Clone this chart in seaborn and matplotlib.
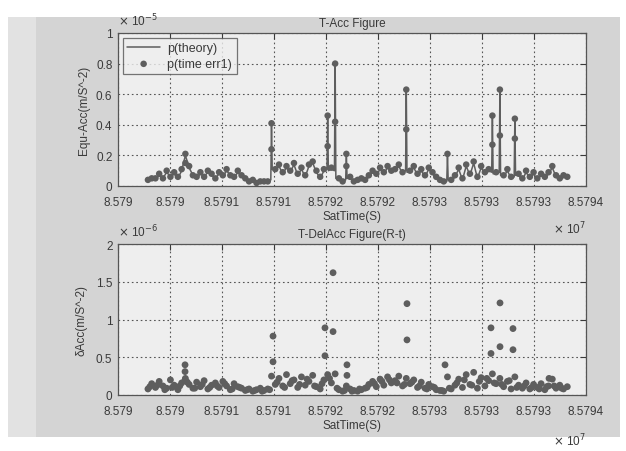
import numpy as np
import pandas as pd
import matplotlib
matplotlib.use("Agg")
import matplotlib.pyplot as plt
import seaborn as sns
from matplotlib.patches import Rectangle
from matplotlib.ticker import FuncFormatter

# ---------------- data ----------------
T0 = 85790000  # seconds
x_ticklabels = ["8.579", "8.579", "8.5791", "8.5791", "8.5792", "8.5792",
                "8.5793", "8.5793", "8.5793", "8.5794"]

t_offsets = [256, 288, 320, 352, 384, 416, 448, 480, 512, 544, 576, 608, 640, 672, 704,
             736, 768, 800, 832, 864, 896, 928, 960, 992, 1024, 1056, 1088, 1120, 1152,
             1184, 1216, 1248, 1280, 1312, 1344, 1376, 1408, 1440, 1472, 1504, 1536, 1568,
             1600, 1632, 1664, 1696, 1728, 1760, 1792, 1824, 1856, 1888, 1920, 1952, 1984,
             2016, 2048, 2080, 2112, 2144, 2176, 2208, 2240, 2272, 2304, 2336, 2368, 2400,
             2432, 2464, 2496, 2528, 2560, 2592, 2624, 2656, 2688, 2720, 2752, 2784, 2816,
             2848, 2880, 2912, 2944, 2976, 3008, 3040, 3072, 3104, 3136, 3168, 3200, 3232,
             3264, 3296, 3328, 3360, 3392, 3424, 3456, 3488, 3520, 3552, 3584, 3616, 3648,
             3680, 3712, 3744, 3776, 3808, 3840]

# p(theory), units of 1e-5 m/s^2
p_theory = [0.03, 0.05, 0.04, 0.07, 0.05, 0.09, 0.06, 0.08, 0.05, 0.10,
            0.20,
            0.12, 0.07, 0.05, 0.08, 0.06, 0.09, 0.07, 0.05, 0.08,
            0.06, 0.10, 0.07, 0.05, 0.09, 0.06, 0.04, 0.03, 0.03, 0.02,
            0.03, 0.02, 0.03,
            0.40,
            0.10, 0.13, 0.08, 0.12, 0.09, 0.14, 0.07, 0.11, 0.06, 0.13, 0.15, 0.09, 0.05,
            0.10, 0.45, 0.11, 0.81, 0.04, 0.03,
            0.20,
            0.05, 0.03, 0.03, 0.04, 0.03, 0.06, 0.09, 0.07, 0.11, 0.08, 0.12, 0.09, 0.10, 0.13, 0.08,
            0.62,
            0.09, 0.12, 0.07, 0.10, 0.06, 0.11, 0.08, 0.05, 0.03, 0.02,
            0.20,
            0.03, 0.06, 0.11, 0.04, 0.13, 0.07, 0.15, 0.05, 0.12, 0.08, 0.10,
            0.45, 0.08, 0.62, 0.06, 0.10, 0.05, 0.44,
            0.07, 0.04, 0.09, 0.05, 0.08, 0.04, 0.07, 0.05, 0.08,
            0.12,
            0.06, 0.04, 0.06, 0.05]

# narrow spike edges of the theory line (baseline points just beside each spike)
spike_edge_t = [1306, 1318, 1786, 1798, 1850, 1862, 1946, 1958, 2458, 2470,
                2810, 2822, 3194, 3206, 3258, 3270, 3386, 3398]
spike_edge_v = [0.04, 0.11, 0.11, 0.10, 0.10, 0.05, 0.04, 0.05, 0.10, 0.09,
                0.03, 0.04, 0.09, 0.08, 0.09, 0.07, 0.06, 0.07]

# p(time err1), units of 1e-5 m/s^2
p_err1 = [0.04, 0.05, 0.05, 0.08, 0.05, 0.10, 0.06, 0.09, 0.06, 0.11,
          0.21,
          0.13, 0.07, 0.06, 0.09, 0.06, 0.10, 0.08, 0.05, 0.09,
          0.07, 0.11, 0.07, 0.06, 0.10, 0.07, 0.05, 0.03, 0.04, 0.02,
          0.03, 0.03, 0.03,
          0.41,
          0.11, 0.14, 0.09, 0.13, 0.10, 0.15, 0.08, 0.12, 0.07, 0.14, 0.16, 0.10, 0.06,
          0.11, 0.46, 0.12, 0.80, 0.05, 0.03,
          0.21,
          0.06, 0.03, 0.04, 0.05, 0.04, 0.07, 0.10, 0.08, 0.12, 0.09, 0.13, 0.10, 0.11, 0.14, 0.09,
          0.63,
          0.10, 0.13, 0.08, 0.11, 0.07, 0.12, 0.09, 0.06, 0.04, 0.03,
          0.21,
          0.04, 0.07, 0.12, 0.05, 0.14, 0.08, 0.16, 0.06, 0.13, 0.09, 0.11,
          0.46, 0.09, 0.63, 0.07, 0.11, 0.06, 0.44,
          0.08, 0.05, 0.10, 0.06, 0.09, 0.05, 0.08, 0.06, 0.09,
          0.13,
          0.07, 0.05, 0.07, 0.06]

# extra err1 points on the spikes
err1_extra_t = [576, 1312, 1792, 1856, 1952, 2464, 3200, 3264, 3392]
err1_extra_v = [0.15, 0.24, 0.26, 0.42, 0.13, 0.37, 0.27, 0.33, 0.31]

# delta Acc, units of 1e-6 m/s^2
d_acc = [0.08, 0.15, 0.10, 0.18, 0.12, 0.09, 0.20, 0.13, 0.07, 0.16,
         0.22, 0.14, 0.09, 0.17, 0.11, 0.19, 0.08, 0.13, 0.16, 0.10,
         0.18, 0.12, 0.07, 0.15, 0.11, 0.09, 0.06, 0.08, 0.05, 0.07,
         0.09, 0.06, 0.08, 0.25, 0.14, 0.22, 0.12, 0.27, 0.15, 0.20,
         0.10, 0.24, 0.13, 0.18, 0.26, 0.11, 0.08, 0.20, 0.27, 0.16,
         0.28, 0.07, 0.05, 0.12, 0.08, 0.06, 0.05, 0.07, 0.09, 0.14,
         0.18, 0.11, 0.21, 0.13, 0.24, 0.16, 0.19, 0.25, 0.12, 0.22,
         0.15, 0.20, 0.10, 0.17, 0.09, 0.14, 0.11, 0.07, 0.06, 0.05,
         0.24, 0.08, 0.13, 0.21, 0.10, 0.27, 0.14, 0.30, 0.09, 0.23,
         0.12, 0.19, 0.28, 0.15, 0.22, 0.11, 0.18, 0.08, 0.24, 0.13,
         0.09, 0.16, 0.08, 0.14, 0.10, 0.15, 0.07, 0.12, 0.21, 0.09,
         0.13, 0.08, 0.11]

# second, interleaved set of delta Acc samples (thick lower band)
d_acc_mid_t = [272, 336, 400, 464, 528, 592, 656, 720, 784, 848, 912, 976, 1040, 1104,
               1168, 1232, 1296, 1360, 1424, 1488, 1552, 1616, 1680, 1744, 1808, 1872,
               1936, 2000, 2064, 2128, 2192, 2256, 2320, 2384, 2448, 2512, 2576, 2640,
               2704, 2768, 2832, 2896, 2960, 3024, 3088, 3152, 3216, 3280, 3344, 3408,
               3472, 3536, 3600, 3664, 3728, 3792]
d_acc_mid_v = [0.11, 0.13, 0.07, 0.10, 0.12, 0.17, 0.09, 0.14, 0.10, 0.12, 0.15, 0.08,
               0.10, 0.07, 0.06, 0.05, 0.07, 0.17, 0.10, 0.19, 0.14, 0.21, 0.12, 0.15,
               0.22, 0.09, 0.06, 0.05, 0.08, 0.10, 0.15, 0.18, 0.20, 0.16, 0.14, 0.17,
               0.12, 0.08, 0.10, 0.06, 0.09, 0.16, 0.20, 0.13, 0.18, 0.22, 0.16, 0.14,
               0.19, 0.10, 0.12, 0.10, 0.08, 0.11, 0.12, 0.09]

d_extra_t = [573, 573, 573, 1325, 1325, 1769, 1769, 1838, 1838, 1957, 1957,
             2470, 2470, 2795, 3188, 3188, 3265, 3265, 3376, 3376, 3684]
d_extra_v = [0.40, 0.31, 0.20, 0.78, 0.44, 0.89, 0.52, 1.62, 0.84, 0.40, 0.26,
             1.21, 0.73, 0.40, 0.89, 0.55, 1.22, 0.64, 0.88, 0.60, 0.22]

# ---------------- frames ----------------
theory_df = pd.concat([
    pd.DataFrame({"t": np.array(t_offsets) + T0, "theory": np.array(p_theory) * 1e-5}),
    pd.DataFrame({"t": np.array(spike_edge_t) + T0, "theory": np.array(spike_edge_v) * 1e-5}),
], ignore_index=True).sort_values("t")
err_df = pd.concat([
    pd.DataFrame({"t": np.array(t_offsets) + T0, "err1": np.array(p_err1) * 1e-5}),
    pd.DataFrame({"t": np.array(err1_extra_t) + T0, "err1": np.array(err1_extra_v) * 1e-5}),
], ignore_index=True)
bot_df = pd.concat([
    pd.DataFrame({"t": np.array(t_offsets) + T0, "d": np.array(d_acc) * 1e-6}),
    pd.DataFrame({"t": np.array(d_acc_mid_t) + T0, "d": np.array(d_acc_mid_v) * 1e-6}),
    pd.DataFrame({"t": np.array(d_extra_t) + T0, "d": np.array(d_extra_v) * 1e-6}),
], ignore_index=True)

# ---------------- style ----------------
sns.set_style("white")
plt.rcParams["font.family"] = ["Liberation Sans", "DejaVu Sans"]
TXT = "#3a3a3a"
GRAY = "#5e5e5e"

fig = plt.figure(figsize=(6.26, 4.52), dpi=100)
fig.patch.set_facecolor("white")
fig.patches.append(Rectangle((0.013, 0.03), 0.977, 0.93, transform=fig.transFigure,
                             facecolor="#d4d4d4", edgecolor="none", zorder=-10))
fig.patches.append(Rectangle((0.013, 0.03), 0.045, 0.93, transform=fig.transFigure,
                             facecolor="#e2e2e2", edgecolor="none", zorder=-9))

ax1 = fig.add_axes([0.1885, 0.5863, 0.7476, 0.3385])
ax2 = fig.add_axes([0.1885, 0.1239, 0.7476, 0.334])

xticks = np.linspace(T0, T0 + 4000, 10)

sns.lineplot(data=theory_df, x="t", y="theory", ax=ax1, color=GRAY, lw=1.1,
             label="p(theory)", zorder=3, sort=True)
sns.scatterplot(data=err_df, x="t", y="err1", ax=ax1, color=GRAY, s=22,
                edgecolor="none", label="p(time err1)", zorder=4)
sns.scatterplot(data=bot_df, x="t", y="d", ax=ax2, color=GRAY, s=24,
                edgecolor="none", zorder=4, legend=False)

for ax, ylim, yticks, scale in [(ax1, (0, 1e-5), [0, 0.2e-5, 0.4e-5, 0.6e-5, 0.8e-5, 1e-5], 1e-5),
                                (ax2, (0, 2e-6), [0, 0.5e-6, 1e-6, 1.5e-6, 2e-6], 1e-6)]:
    ax.set_facecolor("#eeeeee")
    ax.set_xlim(T0, T0 + 4000)
    ax.set_ylim(*ylim)
    ax.set_xticks(xticks)
    ax.set_xticklabels(x_ticklabels)
    ax.set_yticks(yticks)
    ax.yaxis.set_major_formatter(FuncFormatter(lambda v, p, s=scale: "%g" % round(v / s, 3)))
    ax.grid(True, linestyle=(0, (1.5, 2.5)), color="#555555", linewidth=0.8)
    ax.tick_params(direction="in", length=4, top=True, right=True, labelsize=8.5,
                   colors=TXT, width=0.8)
    ax.tick_params(axis="x", pad=7)
    ax.tick_params(axis="y", pad=4)
    for sp in ax.spines.values():
        sp.set_color("#555555")
        sp.set_linewidth(0.9)
    ax.set_xlabel("SatTime(S)", fontsize=8.5, color=TXT, labelpad=2)

ax1.set_ylabel("Equ-Acc(m/S^-2)", fontsize=8.5, color=TXT, labelpad=4)
ax2.set_ylabel("δAcc(m/S^-2)", fontsize=8.5, color=TXT, labelpad=6)
ax1.set_title("T-Acc Figure", fontsize=8.5, color=TXT, pad=5)
ax2.set_title("T-DelAcc Figure(R-t)", fontsize=8.5, color=TXT, pad=5)

ax1.text(0.0, 1.03, r"$\times$ 10$^{-5}$", transform=ax1.transAxes, fontsize=8.5,
         color=TXT, ha="left", va="bottom")
ax2.text(0.0, 1.03, r"$\times$ 10$^{-6}$", transform=ax2.transAxes, fontsize=8.5,
         color=TXT, ha="left", va="bottom")
ax1.text(0.93, -0.22, r"$\times$ 10$^{7}$", transform=ax1.transAxes, fontsize=8.5,
         color=TXT, ha="left", va="top")
ax2.text(0.93, -0.24, r"$\times$ 10$^{7}$", transform=ax2.transAxes, fontsize=8.5,
         color=TXT, ha="left", va="top")

leg = ax1.legend(loc="upper left", fontsize=9, frameon=True, fancybox=False,
                 borderpad=0.35, handlelength=2.6, labelspacing=0.3,
                 borderaxespad=0.4, handletextpad=0.6)
leg.get_frame().set_edgecolor("#555555")
leg.get_frame().set_facecolor("#eeeeee")
leg.get_frame().set_linewidth(0.9)
for t in leg.get_texts():
    t.set_color(TXT)

fig.savefig("out.png", dpi=100, facecolor=fig.get_facecolor())
